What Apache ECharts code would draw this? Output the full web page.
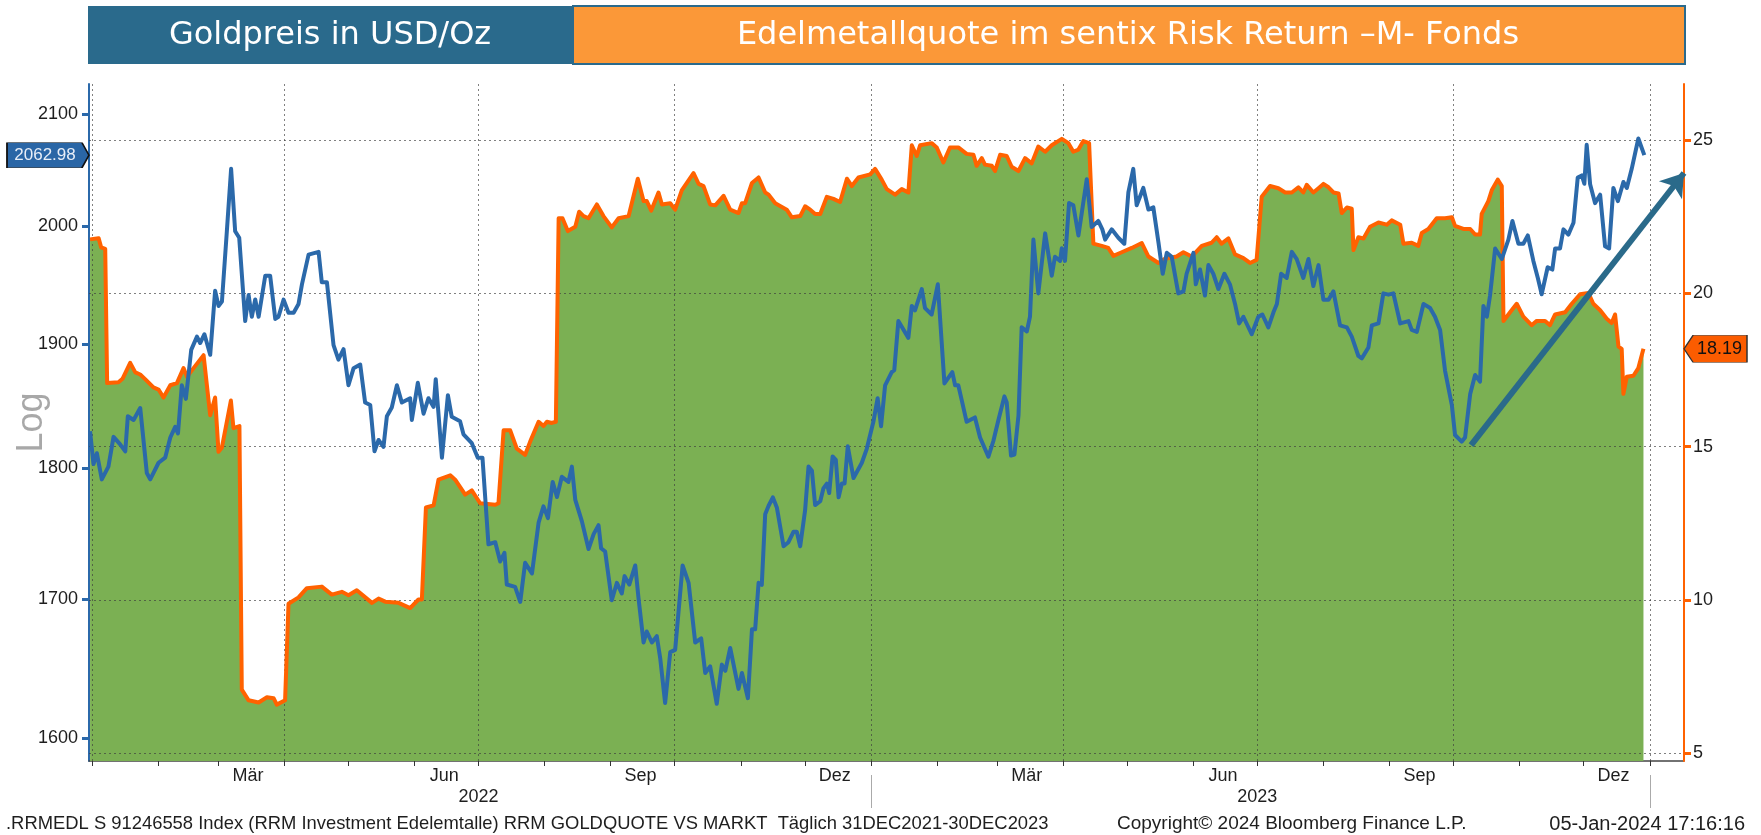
<!DOCTYPE html>
<html>
<head>
<meta charset="utf-8">
<title>Goldpreis vs Edelmetallquote</title>
<script src="https://cdn.jsdelivr.net/npm/echarts@6/dist/echarts.min.js"></script>
<style>
  html, body { margin: 0; padding: 0; background: #ffffff; }
  #chart { width: 1761px; height: 835px; }
</style>
</head>
<body>
<div id="chart"></div>
<script>
// days after 2022-01-01
var quoteDay = [-1, 3, 4.2, 6.1, 7, 12.3, 14.2, 17.8, 20.2, 22.5, 24.8, 28.7, 31.1, 33.4, 36.6, 39.7, 42.8, 44.4, 47.5, 52.2,
  55.3, 57.6, 59.2, 60.8, 65, 66.2, 69, 70.1, 73.3, 78, 81.9, 85, 86.5, 90.4, 92, 96.7, 100.6, 107.6, 112.3, 117,
  120.1, 124, 128, 131.1, 134.2, 137.3, 143.6, 149, 152.9, 154.5, 156.4, 160, 162.3, 167.8, 170.1, 174.8, 177.9, 181.8, 188.9, 190.4,
  192.8, 195.9, 199, 202.9, 205.3, 209.2, 211.5, 213.1, 215.4, 217.3, 218.6, 220.4, 222.9, 226.4, 228.2, 230.3, 232.6, 236.5, 239.6, 243.5,
  246.7, 251.4, 255.7, 258.4, 259.9, 262, 265.4, 267, 270.9, 273.2, 276.3, 281.8, 284.2, 286.5, 289.6, 292, 295.9, 299, 302.9, 304.5,
  306, 309.2, 312.3, 315.4, 317, 320.1, 325.5, 327.9, 331.8, 334.1, 336.5, 338.8, 341.2, 344.3, 347.4, 350.5, 353.7, 356, 359.1, 364.6,
  366.9, 370, 372.4, 376.3, 379.4, 382.5, 384.1, 386.4, 388, 393.4, 395.8, 398.9, 402, 405.9, 409.8, 413, 414.5, 416.9, 418.4, 421.6,
  423.1, 425.5, 428.6, 430.9, 434.1, 437.2, 440.3, 443.4, 446.6, 449.7, 454.4, 457.5, 459.8, 462.2, 464.5, 467.2, 469.2, 473.1, 476.2, 478.6,
  482.5, 487.2, 491.9, 495, 499.7, 502.8, 508.2, 511.4, 515.3, 520, 524.6, 527, 529.3, 532.5, 535.6, 539.5, 542.6, 545.7, 548.1, 552,
  555.9, 559.1, 562.2, 565.3, 567.6, 569.2, 572.3, 574.7, 577, 579.4, 581.7, 584.1, 585.6, 588, 590.3, 591.1, 593.4, 595.8, 598.9, 602.8,
  606.7, 609, 613, 614.5, 618.4, 621.5, 623.1, 626.2, 630.1, 634, 637.2, 638.7, 642.6, 645.8, 648.1, 650.4, 651.2, 654.3, 655.9, 658.7,
  660.6, 661.4, 664.5, 667.6, 670.7, 674.6, 677, 680.9, 683.2, 685.6, 690.3, 693.4, 697.3, 701.2, 703.5, 706.7, 709.8, 712.1, 713.7, 715.3,
  716.8, 717.6, 719.2, 722.3, 724.6, 727];
var quoteValues = [21.76, 21.8, 21.5, 21.45, 17.07, 17.1, 17.21, 17.73, 17.42, 17.35, 17.2, 16.93, 16.86, 16.6, 17.0, 17.07, 17.56, 17.28, 17.56, 17.98,
  16.02, 16.6, 14.83, 14.97, 16.5, 15.6, 15.67, 7.07, 6.72, 6.65, 6.82, 6.79, 6.58, 6.72, 9.87, 10.08, 10.38, 10.43, 10.17, 10.26,
  10.15, 10.31, 10.08, 9.9, 10.04, 9.94, 9.9, 9.73, 10.01, 10.01, 13.01, 13.08, 13.92, 14.06, 13.92, 13.43, 13.57, 13.15, 13.1, 13.15,
  15.53, 15.53, 14.93, 14.73, 15.17, 15.81, 15.67, 15.81, 15.77, 15.81, 22.45, 22.45, 22.03, 22.17, 22.66, 22.52, 22.45, 22.9, 22.52, 22.15,
  22.45, 22.52, 23.74, 23.01, 23.01, 22.7, 23.29, 22.9, 22.94, 22.73, 23.36, 23.92, 23.57, 23.5, 22.9, 22.87, 23.18, 22.73, 22.62, 22.94,
  22.94, 23.6, 23.78, 23.29, 23.22, 22.94, 22.73, 22.48, 22.52, 22.84, 22.73, 22.59, 22.59, 23.15, 23.08, 22.98, 23.74, 23.5, 23.78, 23.88,
  24.06, 23.71, 23.4, 23.22, 23.4, 23.29, 24.83, 24.48, 24.83, 24.9, 24.76, 24.27, 24.76, 24.76, 24.55, 24.52, 24.16, 24.41, 24.2, 24.16,
  23.99, 24.52, 24.48, 24.13, 23.99, 24.41, 24.24, 24.79, 24.62, 24.83, 25.04, 24.9, 24.62, 24.69, 24.97, 24.9, 21.62, 21.55, 21.48, 21.22,
  21.34, 21.48, 21.64, 21.2, 20.99, 21.13, 21.2, 21.34, 21.2, 21.55, 21.65, 21.83, 21.62, 21.79, 21.27, 21.15, 20.99, 21.09, 23.15, 23.5,
  23.43, 23.29, 23.29, 23.46, 23.29, 23.54, 23.29, 23.43, 23.57, 23.46, 23.29, 23.26, 22.62, 22.8, 22.76, 21.41, 21.83, 21.79, 22.17, 22.31,
  22.24, 22.38, 22.24, 21.62, 21.65, 21.55, 21.97, 22.1, 22.45, 22.45, 22.48, 22.2, 22.1, 22.1, 21.92, 21.92, 22.59, 23.01, 23.36, 23.71,
  23.5, 19.1, 19.38, 19.66, 19.24, 18.96, 19.1, 19.1, 18.96, 19.31, 19.38, 19.66, 19.97, 20.01, 19.66, 19.45, 19.17, 19.03, 19.31, 18.26,
  18.19, 16.72, 17.28, 17.31, 17.56, 18.19];

var goldDay = [-1, 0.6, 2.2, 4.5, 7.6, 10, 13.1, 15.5, 16.7, 19.4, 22.5, 25.6, 27.2, 31.1, 34.2, 36.6, 38.9, 40.2, 42, 43.9,
  46.4, 49.1, 50.6, 52.6, 55.3, 57.6, 59.2, 60.8, 63.1, 65.1, 67, 68.9, 71.7, 73.3, 74.8, 76.4, 78, 81.1, 83.4, 85.8,
  87.3, 89.7, 92, 94.4, 96.7, 98.3, 101.4, 106.1, 107.6, 110, 113.1, 115.4, 117.8, 120.1, 122.5, 125.6, 127.9, 130.3, 132.3, 134.2,
  136.5, 138.1, 140.4, 142.8, 145.1, 149, 149.8, 152.6, 155.3, 157.6, 160, 161, 163.9, 166.7, 168.5, 172.4, 174, 177.9, 180.7, 182.9,
  185.7, 188.9, 191.2, 193.2, 194.3, 198.2, 200.6, 202.9, 206.1, 209.2, 211.5, 213.6, 215.8, 217.8, 220.1, 223.2, 224.8, 226.4, 229.5, 232.6,
  235, 237.3, 238.5, 240.4, 243.5, 245.9, 248.2, 249.5, 251.7, 254.5, 256, 258.4, 259.9, 262.3, 264.6, 266.2, 268.5, 270.9, 273.2, 276.7,
  279.5, 282.6, 285.4, 287.3, 289.6, 292.7, 295.1, 296.7, 299, 302.9, 304.5, 307.3, 309.2, 310.7, 312.3, 313.8, 315.4, 317, 319, 320.9,
  324, 326.3, 328.7, 330.2, 331.8, 334.1, 335.7, 337.3, 338.8, 341.2, 342.7, 344.3, 345.4, 347, 348.5, 349.8, 351.3, 352.6, 354.1, 356.8,
  360.7, 363, 366.1, 368.1, 369.7, 371.6, 374.7, 375.9, 377.8, 382.5, 384.1, 385.6, 388.8, 390.3, 393.4, 396.3, 399.4, 403.1, 404.4, 405.9,
  407.5, 409.8, 413.7, 416.1, 420, 422.3, 424.7, 427.5, 428.6, 430.6, 432.2, 434.1, 435.6, 438, 439.5, 441.1, 443.4, 444.2, 446.6, 449.7,
  451.2, 453.6, 454.4, 455.9, 457.8, 459.8, 462.2, 466.1, 468.4, 471.5, 473.4, 474.7, 477.8, 480.9, 483.7, 485.6, 487.9, 489.5, 492.6, 495,
  497.3, 499.7, 501.7, 503.6, 505.9, 509, 511.4, 512.9, 516.1, 517.2, 519.2, 521.5, 523.1, 525.4, 527.8, 530.6, 533.2, 535.6, 537.5, 539.5,
  543.4, 546.5, 548.4, 551.2, 553.6, 555.2, 557.2, 559.8, 562.2, 564.5, 567.6, 570, 572.3, 574.7, 577, 579.4, 581.7, 584.8, 588, 590.3,
  593.4, 595, 598.1, 599.7, 602.8, 605.1, 607.5, 609.8, 613, 616.9, 618.4, 620.8, 623.9, 627, 629.3, 631.7, 634, 637.2, 638.7, 641.8,
  643.4, 645.8, 648.1, 650.4, 652, 653.6, 655.1, 657.5, 660.6, 663.7, 665.6, 668.4, 670.7, 672.8, 675.4, 677.5, 679.3, 682.1, 684.3, 685.6,
  687.9, 689.5, 691.8, 694.2, 696.2, 698.1, 699.3, 700.4, 702, 704.3, 706.7, 709, 710.9, 712.9, 715, 717.6, 719.2, 721.5, 724.6, 727.4];
var goldValues = [1829, 1803, 1811.5, 1791, 1801, 1824.5, 1818.5, 1813, 1841, 1838, 1847.6, 1796, 1791, 1804, 1808, 1824, 1832.5, 1827.3, 1866, 1855,
  1895, 1906, 1900.7, 1908, 1891, 1944.5, 1931.7, 1935.4, 1995.6, 2050.7, 1995.6, 1990, 1919, 1941, 1922.6, 1937.2, 1922.6, 1957.3, 1957.3, 1920.8,
  1922.6, 1937, 1926, 1926, 1933.4, 1950, 1975.4, 1977.8, 1951.7, 1951.7, 1899, 1887, 1895.6, 1866, 1880, 1883, 1852, 1850, 1813, 1822,
  1816.5, 1841, 1848, 1866, 1852, 1855.5, 1838, 1868, 1843, 1855.5, 1848.5, 1871, 1808, 1858, 1840.5, 1837, 1826.5, 1819.5, 1808, 1808,
  1741, 1742.6, 1728, 1734.5, 1710.7, 1709, 1697.8, 1727, 1719, 1757.5, 1770, 1761, 1789, 1777.3, 1793, 1789, 1801, 1775, 1758.5, 1737.4,
  1748.7, 1755.6, 1738, 1735.5, 1699, 1712, 1704, 1717, 1710.7, 1725, 1701, 1668, 1676, 1668, 1672.6, 1656.6, 1624.6, 1661, 1662.6, 1725,
  1712, 1668, 1671, 1646, 1650.7, 1624, 1652, 1647.5, 1664, 1634.6, 1646, 1628, 1677.6, 1677.6, 1712, 1710.4, 1764, 1770.5, 1777, 1768.9,
  1739.5, 1742.6, 1750.6, 1750.6, 1739.5, 1767, 1801, 1797.7, 1771, 1774, 1784, 1787.7, 1780.4, 1809, 1806.3, 1777, 1787.7, 1787.7, 1817, 1792,
  1804, 1815, 1836.5, 1855.5, 1833, 1866, 1876.7, 1878.4, 1919, 1905, 1931.7, 1928, 1945.9, 1929.9, 1924.5, 1950, 1867.5, 1876.7, 1866, 1866,
  1854, 1836.5, 1840, 1824, 1808.8, 1821, 1838, 1857, 1852, 1809.7, 1810.5, 1841.5, 1913.9, 1910.3, 1922.7, 1988.4, 1942.3, 1942.3, 1993.8, 1957.3,
  1973.6, 1970, 1981, 1970, 2020.3, 2018.4, 1992, 2041.4, 1999.3, 2004.6, 1997.3, 1988.4, 1997.3, 1990, 1984.8, 2029.8, 2050.7, 2018.4, 2033.7, 2014.6,
  2016.5, 1986, 1959, 1977, 1973.6, 1942.3, 1944, 1959, 1977, 1950, 1962.6, 1940.5, 1966.4, 1959, 1946, 1959, 1950, 1933.4, 1917, 1922.6,
  1908, 1922.6, 1924.5, 1913.7, 1926.3, 1933.4, 1959, 1955.4, 1977.8, 1971.6, 1955.4, 1971.6, 1948.5, 1966.4, 1937, 1937, 1944, 1915.4, 1913.7, 1906,
  1890, 1888, 1897, 1915.4, 1917, 1942.3, 1941.2, 1942.3, 1917, 1919, 1911.6, 1910, 1933.4, 1930, 1922.6, 1911.6, 1878, 1850, 1826, 1820.7,
  1824, 1858.9, 1874.4, 1869, 1931.7, 1922.6, 1940.5, 1980.7, 1971.6, 1988.4, 2004.6, 1984.8, 1984.8, 1992, 1970, 1955.4, 1941.6, 1964.6, 1962.6, 1980.7,
  1980.7, 1997.3, 1992.7, 2003, 2043, 2044.8, 2037.4, 2072.3, 2037, 2020.3, 2027.7, 1982.6, 1980.7, 2033.7, 2022, 2039, 2033.7, 2050.7, 2078, 2062.98];

// trend arrow on the gold scale: [day, price]
var trendArrow = [[646.2, 1818], [746, 2047]];

var goldTicks = [1600, 1700, 1800, 1900, 2000, 2100];
var quoteTicks = [5, 10, 15, 20, 25];
var monthNames = ['Jan', 'Feb', 'Mär', 'Apr', 'Mai', 'Jun', 'Jul', 'Aug', 'Sep', 'Okt', 'Nov', 'Dez'];
var labelMonths = [[2022, 2], [2022, 5], [2022, 8], [2022, 11], [2023, 2], [2023, 5], [2023, 8], [2023, 11]];
var yearLabels = [2022, 2023];

var DAY = 86400000;
var DAY0 = Date.UTC(2022, 0, 1);
function toDay (y, m, d) { return (Date.UTC(y, m, d) - DAY0) / DAY }
function dayDate (d) { return new Date(DAY0 + Math.round(d) * DAY) }

var xMin = -1.5;
var xMax = 746;

var quoteData = quoteDay.map(function (d, i) { return [d, quoteValues[i]] });
var goldData = goldDay.map(function (d, i) { return [d, goldValues[i]] });

var monthTicks = [];
for (var m = 0; m <= 24; m++) monthTicks.push(toDay(2022, m, 1));
var quarterTicks = [];
for (var q = 0; q <= 24; q += 3) quarterTicks.push(toDay(2022, q, 1));
var monthLabelVals = labelMonths.map(function (p) { return toDay(p[0], p[1], 15) });
var yearLabelVals = yearLabels.map(function (y) { return toDay(y, 6, 1) });
var yearBreaks = yearLabels.map(function (y) { return toDay(y + 1, 0, 1) });

var FONT = 'Liberation Sans, Arial, sans-serif';
var BLUE = '#2b69aa';
var ORANGE = '#ff6200';
var GRID_LINE = { type: [2, 3], color: 'rgba(60,60,60,0.65)', width: 1 };

var goldLast = goldValues[goldValues.length - 1];
var quoteLast = quoteValues[quoteValues.length - 1];

var chart = echarts.init(document.getElementById('chart'));
chart.setOption({
  animation: false,
  backgroundColor: '#ffffff',
  grid: { left: 89, right: 77, top: 84, bottom: 74, containLabel: false, outerBoundsMode: 'none' },
  xAxis: [
    {
      type: 'value', min: xMin, max: xMax, position: 'bottom',
      axisLine: { show: true, onZero: false, lineStyle: { color: '#444', width: 1.5 } },
      axisTick: { show: true, customValues: monthTicks, length: 5, lineStyle: { color: '#333', width: 1 } },
      axisLabel: {
        customValues: monthLabelVals, margin: 6, color: '#1e1e1e', fontSize: 18, fontFamily: FONT,
        formatter: function (v) { return monthNames[dayDate(v).getUTCMonth()] }
      },
      splitLine: { show: false }
    },
    {
      // quarterly dotted grid lines
      type: 'value', min: xMin, max: xMax, position: 'bottom', z: 2,
      axisLine: { show: false, onZero: false },
      axisTick: { show: false, customValues: quarterTicks },
      axisLabel: { show: false },
      splitLine: { show: true, lineStyle: GRID_LINE }
    },
    {
      // year row
      type: 'value', min: xMin, max: xMax, position: 'bottom', offset: 14,
      axisLine: { show: false, onZero: false },
      axisTick: { show: true, customValues: yearBreaks, length: 33, lineStyle: { color: '#aaaaaa', width: 1 } },
      axisLabel: {
        customValues: yearLabelVals, margin: 13, color: '#1e1e1e', fontSize: 18, fontFamily: FONT,
        formatter: function (v) { return String(dayDate(v).getUTCFullYear()) }
      },
      splitLine: { show: false }
    }
  ],
  yAxis: [
    {
      type: 'log', logBase: 10, min: 1584, max: 2128, position: 'left',
      name: 'Log', nameLocation: 'middle', nameRotate: 90, nameGap: 39, nameMoveOverlap: false,
      nameTextStyle: { color: '#a8a8a8', fontSize: 36, fontFamily: FONT },
      axisLine: { show: true, onZero: false, lineStyle: { color: BLUE, width: 2 } },
      axisTick: { show: true, customValues: goldTicks, length: 7, lineStyle: { color: BLUE, width: 3 } },
      axisLabel: {
        customValues: goldTicks, margin: 11, color: '#1e1e1e', fontSize: 18, fontFamily: FONT,
        formatter: function (v) { return String(Math.round(v)) }
      },
      splitLine: { show: false }
    },
    {
      type: 'value', min: 4.74, max: 26.83, position: 'right', z: 2,
      axisLine: { show: true, onZero: false, lineStyle: { color: ORANGE, width: 2 } },
      axisTick: { show: true, customValues: quoteTicks, length: 7, lineStyle: { color: ORANGE, width: 3 } },
      axisLabel: { customValues: quoteTicks, margin: 9, color: '#1e1e1e', fontSize: 18, fontFamily: FONT },
      splitLine: { show: true, lineStyle: GRID_LINE }
    }
  ],
  series: [
    {
      name: 'Fläche', type: 'line', xAxisIndex: 0, yAxisIndex: 1, data: quoteData,
      symbol: 'none', silent: true, z: 1,
      lineStyle: { width: 0 },
      areaStyle: { color: '#7bb053', opacity: 1 }
    },
    {
      name: 'Edelmetallquote', type: 'line', xAxisIndex: 0, yAxisIndex: 1, data: quoteData,
      symbol: 'none', z: 3,
      lineStyle: { color: ORANGE, width: 4, join: 'round' },
      markPoint: {
        silent: true,
        symbol: 'path://M0,13.5L9,0L63,0L63,27L9,27Z',
        symbolSize: [63, 27],
        symbolOffset: [31.5, 0],
        symbolKeepAspect: false,
        itemStyle: { color: '#fb5c00', borderColor: '#333', borderWidth: 1 },
        label: {
          show: true, position: 'inside', offset: [4, 0], color: '#111', fontSize: 18, fontFamily: FONT,
          formatter: function (p) { return p.value.toFixed(2) }
        },
        data: [{ coord: [xMax, quoteLast], value: quoteLast }]
      }
    },
    {
      name: 'Goldpreis', type: 'line', xAxisIndex: 0, yAxisIndex: 0, data: goldData,
      symbol: 'none', z: 4,
      lineStyle: { color: BLUE, width: 4, join: 'round' },
      markPoint: {
        silent: true,
        symbol: 'path://M0,0L75,0L82,12.5L75,25L0,25Z',
        symbolSize: [82, 25],
        symbolOffset: [-41, 0],
        symbolKeepAspect: false,
        itemStyle: { color: '#2a66a6', borderColor: '#111', borderWidth: 1 },
        label: {
          show: true, position: 'inside', offset: [-3, 0], color: '#e8eef8', fontSize: 17, fontFamily: FONT,
          formatter: function (p) { return p.value.toFixed(2) }
        },
        data: [{ coord: [xMin, goldLast], value: goldLast }]
      },
      markLine: {
        silent: true,
        symbol: ['none', 'arrow'],
        symbolSize: 22,
        lineStyle: { color: '#2a6a8a', width: 6, type: 'solid' },
        label: { show: false },
        data: [[
          { coord: trendArrow[0] },
          { coord: trendArrow[1] }
        ]]
      }
    }
  ],
  graphic: [
    { type: 'rect', shape: { x: 88, y: 6, width: 485, height: 58 }, style: { fill: '#2a6a8c' }, z: 10 },
    { type: 'rect', shape: { x: 573, y: 6, width: 1112, height: 58 }, style: { fill: '#fb9838', stroke: '#2a6a8c', lineWidth: 2 }, z: 10 },
    { type: 'text', x: 330, y: 36, z: 11, style: { text: 'Goldpreis in USD/Oz', fill: '#ffffff', font: '32px DejaVu Sans, sans-serif', align: 'center', verticalAlign: 'middle' } },
    { type: 'text', x: 1128, y: 36, z: 11, style: { text: 'Edelmetallquote im sentix Risk Return –M- Fonds', fill: '#ffffff', font: '32px DejaVu Sans, sans-serif', align: 'center', verticalAlign: 'middle' } },
    { type: 'text', x: 6, y: 824, z: 11, style: { text: '.RRMEDL S 91246558 Index (RRM Investment Edelemtalle) RRM GOLDQUOTE VS MARKT  Täglich 31DEC2021-30DEC2023', fill: '#1e1e1e', font: '18.4px ' + FONT, align: 'left', verticalAlign: 'middle' } },
    { type: 'text', x: 1117, y: 824, z: 11, style: { text: 'Copyright© 2024 Bloomberg Finance L.P.', fill: '#1e1e1e', font: '19px ' + FONT, align: 'left', verticalAlign: 'middle' } },
    { type: 'text', x: 1745, y: 824, z: 11, style: { text: '05-Jan-2024 17:16:16', fill: '#1e1e1e', font: '20px ' + FONT, align: 'right', verticalAlign: 'middle' } }
  ]
});
</script>
</body>
</html>
